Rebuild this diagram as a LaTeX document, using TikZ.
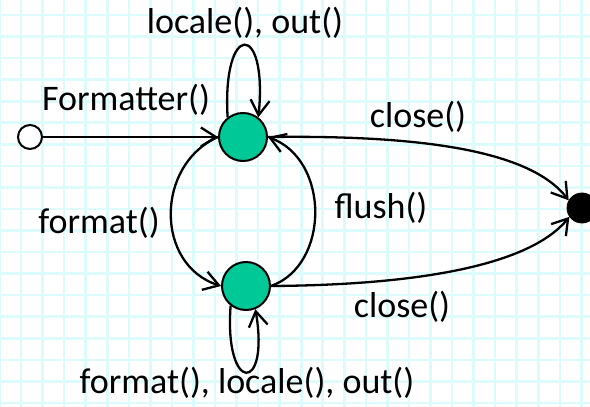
\documentclass[tikz,border=0pt]{standalone}
\usepackage{fontspec}
\setmainfont{Carlito}
\usetikzlibrary{arrows.meta,positioning}

\definecolor{gridcyan}{RGB}{222,251,251}
\definecolor{stategreen}{RGB}{0,201,151}

\tikzset{
    gridline/.style={draw=gridcyan,line width=1.3pt},
    initstate/.style={circle,draw,fill=white,line width=1pt,minimum size=12pt,inner sep=0pt},
    midstate/.style={circle,draw,fill=stategreen,line width=1pt,minimum size=24pt,inner sep=0pt},
    endstate/.style={circle,draw,fill=black,minimum size=15pt,inner sep=0pt},
    trans/.style={->,line width=1.15pt},
    lbl/.style={anchor=base,inner sep=0pt,font=\fontsize{18}{22}\selectfont}
}

\begin{document}
\begin{tikzpicture}[x=0.5pt,y=-0.5pt,>={Straight Barb[length=7.5pt,width=9.5pt]}]
    \useasboundingbox (0,0) rectangle (590,407);
    \fill[white] (0,0) rectangle (590,407);
    %% grid
    \foreach \i in {0,...,27}
        \draw[gridline] ({-0.5+21.55*\i},0) -- ({-0.5+21.55*\i},407);
    \foreach \j in {0,...,18}
        \draw[gridline] (0,{15+21.55*\j}) -- (590,{15+21.55*\j});
    %% states
    \node[initstate] (start) at (30,137) {};
    \node[midstate] (ready) at (243,137) {};
    \node[midstate] (busy) at (246,286) {};
    \node[endstate] (stop) at (582,208) {};
    %% transitions
    \draw[trans] (start) -- (ready);
    \draw[trans] (ready.128) .. controls (222,21) and (268,21) .. (ready.52);
    \draw[trans] (ready.west) .. controls (155,165) and (155,265) .. (busy.west);
    \draw[trans] (busy.east) .. controls (330,265) and (330,160) .. (ready.east);
    \draw[trans] (busy.232) .. controls (224,394) and (270,394) .. (busy.-68);
    \draw[trans] (ready.east) .. controls (420,135) and (530,150) .. (stop.150);
    \draw[trans] (busy.east) .. controls (420,285) and (530,265) .. (stop.215);
    %%
    \node[lbl] (lloop) at (245,33) {locale(), out()};
    \node[lbl] (lnew) at (126,110) {Formatter()};
    \node[lbl] (lclose) at (418,127) {close()};
    \node[lbl] (lflush) at (381,218) {flush()};
    \node[lbl] (lformat) at (99,233) {format()};
    \node[lbl] (lclosetwo) at (402,317) {close()};
    \node[lbl] (lloopb) at (247,393) {format(), locale(), out()};
\end{tikzpicture}
\end{document}
